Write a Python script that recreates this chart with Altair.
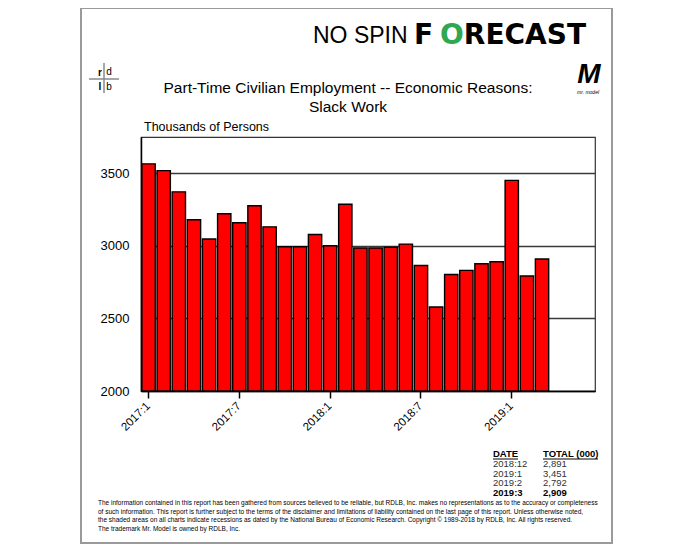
import altair as alt
import pandas as pd

FONT = "Liberation Sans"

# ---- data ----
periods = ["2017:1", "2017:2", "2017:3", "2017:4", "2017:5", "2017:6",
           "2017:7", "2017:8", "2017:9", "2017:10", "2017:11", "2017:12",
           "2018:1", "2018:2", "2018:3", "2018:4", "2018:5", "2018:6",
           "2018:7", "2018:8", "2018:9", "2018:10", "2018:11", "2018:12",
           "2019:1", "2019:2", "2019:3", "2019:4", "2019:5", "2019:6"]
values = [3565, 3518, 3372, 3180, 3047, 3221, 3159, 3276, 3131, 2994, 2994, 3078,
          3001, 3287, 2985, 2985, 2990, 3012, 2865, 2579, 2803, 2831, 2877, 2891,
          3451, 2792, 2909]
tick_labels = ["2017:1", "2017:7", "2018:1", "2018:7", "2019:1"]
y_ticks = [2000, 2500, 3000, 3500]
title_lines = ["Part-Time Civilian Employment -- Economic Reasons:", "Slack Work"]
y_title = "Thousands of Persons"
table_dates = periods[23:27]
table_totals = values[23:27]
disclaimer = [
    "The information contained in this report has been gathered from sources believed to be reliable, but RDLB, Inc. makes no representations as to the accuracy or completeness",
    "of such information. This report is further subject to the terms of the disclaimer and limitations of liability contained on the last page of this report.  Unless otherwise noted,",
    "the shaded areas on all charts indicate recessions as dated by the National Bureau of Economic Research. Copyright \u00a9 1989-2018  by RDLB, Inc.  All rights reserved.",
    "The trademark Mr. Model is owned by RDLB, Inc.",
]

# ---- layout (page pixels) ----
OX, OY = 141, 137          # plot origin on page
W, H = 454, 254

df = pd.DataFrame({"period": periods[:len(values)], "value": values})
one = pd.DataFrame({"k": [0]})


def px(x):
    return alt.value(x - OX)


def py(y):
    return alt.value(y - OY)


def label(txt, x, y, size=12, weight="normal", align="left", font=FONT,
          color="black", style="normal", baseline="middle"):
    return alt.Chart(one).mark_text(
        text=txt, align=align, baseline=baseline, fontSize=size,
        fontWeight=weight, font=font, color=color, fontStyle=style
    ).encode(x=px(x), y=py(y))


def rule(x1, y1, x2, y2, color="black", width=1.0):
    return alt.Chart(one).mark_rule(color=color, strokeWidth=width).encode(
        x=px(x1), x2=px(x2), y=py(y1), y2=py(y2))


frame = alt.Chart(one).mark_rect(fill="transparent", stroke="#9a9a9a", strokeWidth=2).encode(
    x=px(81), x2=px(612), y=py(8), y2=py(543))

bars = alt.Chart(df).mark_bar(color="#ff0000", stroke="black", strokeWidth=1.4).encode(
    x=alt.X("period:N",
            scale=alt.Scale(domain=periods, paddingInner=0.12, paddingOuter=0.06),
            axis=alt.Axis(values=tick_labels, labelAngle=315, labelAlign="right",
                          labelBaseline="middle", labelFontSize=11.5, labelFont=FONT,
                          labelColor="black", tickColor="black", tickSize=7,
                          tickWidth=1.5, domainColor="black", domainWidth=1.5,
                          labelPadding=6, title=None, grid=False)),
    y=alt.Y("value:Q",
            scale=alt.Scale(domain=[2000, 3750], nice=False, zero=False),
            axis=alt.Axis(values=y_ticks, format="d", labelFontSize=13, labelFont=FONT,
                          labelColor="black", ticks=False, labelPadding=12,
                          domainColor="black", domainWidth=1.5, grid=True,
                          gridColor="#3a3a3a", gridWidth=1.5, title=None)),
    y2=alt.datum(2000),
)

layers = [frame, bars]

# logo
layers.append(label("NO SPIN", 313, 36, size=23, font=FONT))
layers.append(label("F", 414, 36, size=28, weight="bold", font="DejaVu Sans"))
layers.append(label("O", 452, 36, size=28, weight="bold", font="DejaVu Sans",
                    color="#2fa84f", align="center"))
layers.append(label("RECAST", 586, 36, size=28, weight="bold", font="DejaVu Sans",
                    align="right"))

# rdlb mark
layers.append(rule(104, 63, 104, 93, color="#8a8a8a", width=1.5))
layers.append(rule(89, 79, 119, 79, color="#8a8a8a", width=1.5))
layers.append(label("r", 100, 73, size=10, weight="bold", align="center"))
layers.append(label("d", 109, 72, size=10, align="center"))
layers.append(label("l", 100, 87, size=10, weight="bold", align="center"))
layers.append(label("b", 109, 87, size=10, align="center"))

# Mr. Model mark
layers.append(label("M", 589, 75, size=28, weight="bold", style="italic", align="center"))
layers.append(label("mr. model", 588, 92, size=5, style="italic", align="center"))

# titles
layers.append(label(title_lines[0], 348, 88, size=15.5, align="center"))
layers.append(label(title_lines[1], 348, 107, size=15.5, align="center"))
layers.append(label(y_title, 144, 127, size=12.5))

# table
layers.append(label("DATE", 493, 454, size=9.5, weight="bold"))
layers.append(label("TOTAL (000)", 543, 454, size=9.5, weight="bold"))
layers.append(rule(493, 459, 518, 459, width=1))
layers.append(rule(543, 459, 598, 459, width=1))
row_y = [464, 473.5, 483, 492.5]
for i, (d, v) in enumerate(zip(table_dates, table_totals)):
    w = "bold" if i == len(table_dates) - 1 else "normal"
    c = "black" if i == len(table_dates) - 1 else "#333"
    layers.append(label(d, 493, row_y[i], size=9.5, weight=w, color=c))
    layers.append(label(f"{v:,}", 543, row_y[i], size=9.5, weight=w, color=c))

# disclaimer
dis_y = [503, 511.5, 520, 528.5]
for t, yy in zip(disclaimer, dis_y):
    layers.append(label(t, 98, yy, size=6.5, font=FONT))

chart = alt.layer(*layers).properties(
    width=W, height=H,
    autosize=alt.AutoSizeParams(type="none"),
    padding={"left": OX - 8, "top": OY - 8, "right": 70, "bottom": 155},
).configure_view(stroke="#333", strokeWidth=1.2)

chart.save("out.html", embed_options={"renderer": "svg", "actions": False})
